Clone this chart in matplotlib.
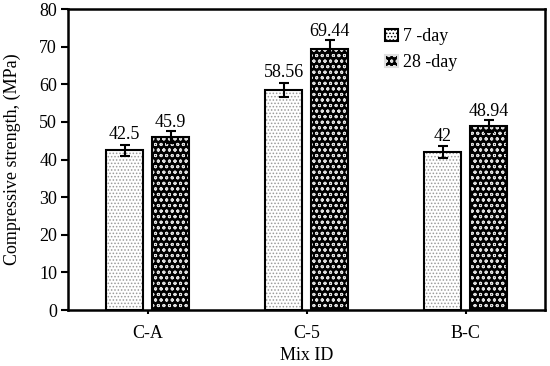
import numpy as np
import matplotlib
matplotlib.use('Agg')
import matplotlib.pyplot as plt
from matplotlib.patches import Patch

mixes = ['C-A', 'C-5', 'B-C']
day7 = [42.5, 58.56, 42.0]
day28 = [45.9, 69.44, 48.94]
err7 = [1.5, 1.9, 1.5]
err28 = [1.6, 2.4, 1.7]
labels7 = ['42.5', '58.56', '42']
labels28 = ['45.9', '69.44', '48.94']

plt.rcParams['font.family'] = ['Liberation Serif', 'DejaVu Serif']
plt.rcParams['font.size'] = 13
plt.rcParams['hatch.linewidth'] = 0.7

fig = plt.figure(figsize=(5.5, 3.66), dpi=100)
ax = fig.add_axes([0.124, 0.153, 0.867, 0.822])

x = np.arange(len(mixes))
w = 0.235
off = 0.145

# relleno con patron (dos pasadas: patron y contorno)
ax.bar(x - off, day7, w, color='white', edgecolor='#9a9a9a', hatch='.....', linewidth=0)
ax.bar(x - off, day7, w, fill=False, edgecolor='black', linewidth=1.5)
ax.bar(x + off, day28, w, color='black', edgecolor='#e0e0e0', hatch='ooo', linewidth=0)
ax.bar(x + off, day28, w, fill=False, edgecolor='black', linewidth=1.5)

ax.errorbar(x - off, day7, yerr=err7, fmt='none', ecolor='black', elinewidth=1.5, capsize=3.5, capthick=1.5)
ax.errorbar(x + off, day28, yerr=err28, fmt='none', ecolor='black', elinewidth=1.5, capsize=3.5, capthick=1.5)

for xi, v, e, t in zip(x - off, day7, err7, labels7):
    ax.annotate(t, (xi, v + e), xytext=(0, 1), textcoords='offset points', ha='center', va='bottom')
for xi, v, e, t in zip(x + off, day28, err28, labels28):
    ax.annotate(t, (xi, v + e), xytext=(0, 0), textcoords='offset points', ha='center', va='bottom')

ax.set_xlim(-0.5, 2.5)
ax.set_ylim(0, 80)
ax.set_yticks(range(0, 81, 10))
ax.set_xticks(x)
ax.set_xticklabels(mixes)
ax.tick_params(axis='y', direction='out', length=5, width=1.5, pad=3)
ax.tick_params(axis='x', direction='out', length=3, width=1.5, pad=8)
for s in ax.spines.values():
    s.set_linewidth(1.8)

ax.set_xlabel('Mix ID', labelpad=3.5)
ax.set_ylabel('Compressive strength, (MPa)', labelpad=13)

handles = [
    Patch(facecolor='white', edgecolor='black', hatch='.....', linewidth=1.5),
    Patch(facecolor='black', edgecolor='#e0e0e0', hatch='ooo', linewidth=1.5),
]
ax.legend(handles, ['7 -day', '28 -day'], loc='upper left', bbox_to_anchor=(0.63, 0.99),
          frameon=False, handlelength=0.7, handleheight=0.7, handletextpad=0.3, labelspacing=0.5)

fig.savefig('out.png', dpi=100)
